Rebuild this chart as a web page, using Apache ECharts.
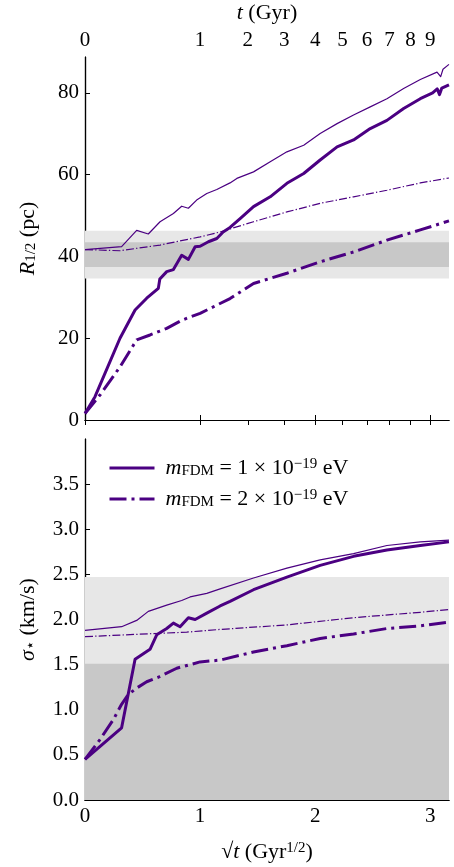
<!DOCTYPE html>
<html><head><meta charset="utf-8">
<script src="https://cdn.jsdelivr.net/npm/echarts@6/dist/echarts.min.js"></script>
<style>html,body{margin:0;padding:0;background:#fff}#c{width:454px;height:867px}</style>
</head><body><div id="c"></div>
<script>
// ---------- data ----------
const XMAX = Math.sqrt(10);
const topTickT = [0,1,2,3,4,5,6,7,8,9];          // t (Gyr) tick labels on top axis
const xTicks = [0,1,2,3];                          // sqrt(t) ticks
const rTicks = [0,20,40,60,80];
const sTicks = [0,0.5,1.0,1.5,2.0,2.5,3.0,3.5];
const rBands = [[34.6,46.3],[37.4,43.5]];           // observed R_1/2 ranges (light, dark)
const sBands = [[0,2.47],[0,1.51]];                 // observed sigma ranges (light, dark)

// top panel: R_1/2 (pc)
const rThickSolidX = [0,0.015,0.087,0.304,0.435,0.536,0.637,0.65,0.71,0.768,0.84,0.898,0.957,1.0,1.072,1.145,1.2,1.26,1.35,1.464,1.609,1.754,1.9,2.043,2.19,2.333,2.478,2.623,2.768,2.913,3.02,3.06,3.08,3.10,3.162];
const rThickSolidY = [1.6,1.6,5.7,20.0,26.9,29.8,32.2,34.5,36.3,36.8,40.3,39.3,42.4,42.5,43.6,44.4,46.0,47.1,49.3,52.2,54.6,57.9,60.3,63.6,66.8,68.5,71.3,73.3,76.2,78.6,80.0,81.0,79.6,81.2,82.0];
const rThinSolidX = [0,0.318,0.449,0.55,0.652,0.768,0.84,0.898,0.97,1.058,1.145,1.26,1.319,1.464,1.609,1.754,1.9,2.043,2.19,2.333,2.478,2.623,2.768,2.913,3.058,3.09,3.11,3.162];
const rThinSolidY = [41.7,42.4,46.4,45.5,48.5,50.5,52.3,51.8,53.8,55.4,56.4,58.0,59.1,60.7,63.2,65.6,67.2,70.1,72.5,74.6,76.6,78.6,81.1,83.3,85.1,84.0,85.8,87.0];
const rThinDashX = [0,0.304,0.652,1.0,1.174,1.464,1.754,2.043,2.333,2.623,2.913,3.162];
const rThinDashY = [41.7,41.4,42.8,44.8,46.0,48.5,50.9,53.0,54.6,56.2,58.0,59.2];
const rThickDashX = [0,0.015,0.13,0.304,0.449,0.565,0.637,0.71,0.84,1.0,1.145,1.26,1.464,1.754,2.043,2.333,2.623,2.913,3.162];
const rThickDashY = [1.6,1.6,6.1,13.0,19.6,20.8,21.6,22.4,24.4,26.1,28.1,29.7,33.4,35.9,38.7,41.1,44.0,46.5,48.7];

// bottom panel: sigma_* (km/s)
const sThickSolidX = [0,0.015,0.318,0.435,0.565,0.623,0.71,0.768,0.826,0.898,0.957,1.058,1.174,1.26,1.464,1.754,2.043,2.333,2.623,2.913,3.162];
const sThickSolidY = [0.45,0.45,0.80,1.56,1.67,1.83,1.90,1.96,1.92,2.02,2.00,2.07,2.15,2.20,2.33,2.47,2.60,2.70,2.77,2.82,2.86];
const sThinSolidX = [0,0.318,0.449,0.55,0.71,0.84,0.913,1.058,1.174,1.464,1.754,2.043,2.333,2.623,2.913,3.162];
const sThinSolidY = [1.88,1.92,1.99,2.09,2.16,2.21,2.25,2.29,2.34,2.46,2.57,2.66,2.73,2.82,2.86,2.88];
const sThinDashX = [0,0.884,1.174,1.754,2.333,2.913,3.162];
const sThinDashY = [1.81,1.86,1.89,1.94,2.02,2.08,2.11];
const sThickDashX = [0,0.015,0.13,0.246,0.318,0.377,0.449,0.536,0.637,0.797,1.0,1.174,1.464,1.754,2.043,2.333,2.623,2.913,3.162];
const sThickDashY = [0.45,0.45,0.67,0.89,1.06,1.17,1.24,1.31,1.36,1.46,1.53,1.55,1.64,1.71,1.79,1.84,1.90,1.93,1.97];

// ---------- chart ----------
const C = '#4B0082';
const FONT = 'Liberation Serif';
const FS = 21;     // tick labels
const NFS = 22;    // axis names / legend
const rich = {
  i: {fontStyle:'italic', fontFamily:FONT, fontSize:NFS},
  n: {fontFamily:FONT, fontSize:NFS},
  s: {fontFamily:FONT, fontSize:15, verticalAlign:'bottom'},
  p: {fontFamily:FONT, fontSize:15, verticalAlign:'top'}
};
const pairs = (xs, ys) => xs.map((x,i)=>[x, ys[i]]);
function line(name, xs, ys, g, thick, dash){
  return {
    type:'line', name, xAxisIndex:g*2, yAxisIndex:g*2, data:pairs(xs,ys),
    symbol:'none', silent:true, z:3, animation:false,
    lineStyle:{color:C, width: thick?3:1.2,
      type: dash ? (thick ? [17,5,3,5] : [8,2.2,1.3,2.2]) : 'solid', cap:'butt', join:'round'},
    itemStyle:{color:C}
  };
}
function bands(g, arr){
  return {
    type:'line', xAxisIndex:g*2, yAxisIndex:g*2, data:[], z:1, silent:true,
    markArea:{silent:true, data: arr.map((b,k)=>[
      {yAxis:b[0], itemStyle:{color: k===0 ? '#e7e7e7' : '#c8c8c8', opacity:1}},
      {yAxis:b[1]}
    ])}
  };
}
const axLine = {show:true, lineStyle:{color:'#000', width:1.2}};
const lbl = {color:'#000', fontFamily:FONT, fontSize:FS};
const nlbl = {color:'#000', fontFamily:FONT, fontSize:NFS};
function xAx(g, pos, labels, name, nameGap){
  const o = {
    gridIndex:g, type:'value', min:0, max:XMAX, position:pos,
    axisLine:axLine, splitLine:{show:false},
    axisTick:{show:!!labels || pos==='bottom', inside:true, length:5, lineStyle:{color:'#000',width:1},
      customValues: labels ? labels.pos : xTicks},
    axisLabel:labels ? Object.assign({customValues:labels.pos, formatter:labels.fmt, margin:6}, lbl) : {show:false}
  };
  if (name){ Object.assign(o, {name, nameLocation:'middle', nameGap, nameTextStyle:Object.assign({rich}, nlbl)}); }
  return o;
}
function yAx(g, pos, max, ticks, name){
  const o = {
    gridIndex:g, type:'value', min:0, max, position:pos,
    axisLine:axLine, splitLine:{show:false},
    axisTick:{show:pos==='left', inside:true, length:5, lineStyle:{color:'#000',width:1}, customValues:ticks},
    axisLabel:pos==='left' ? Object.assign({customValues:ticks, margin:6,
      formatter: v => (g===1 ? v.toFixed(1) : String(v))}, lbl) : {show:false}
  };
  if (name){ Object.assign(o, {name, nameLocation:'middle', nameGap:46, nameRotate:90, nameTextStyle:Object.assign({rich}, nlbl)}); }
  return o;
}
const legendNames = {
  m1: '{i|m}{s|FDM}{n| = 1 × 10}{p|−19}{n| eV}',
  m2: '{i|m}{s|FDM}{n| = 2 × 10}{p|−19}{n| eV}'
};
const option = {
  animation:false,
  backgroundColor:'#fff',
  grid:[
    {left:85, top:57, width:364, height:363},
    {left:85, top:439, width:364, height:361}
  ],
  xAxis:[
    xAx(0,'bottom', null),
    xAx(0,'top', {pos: topTickT.map(Math.sqrt), fmt: v => String(Math.round(v*v))}, '{i|t}{n| (Gyr)}', 33),
    xAx(1,'bottom', {pos: xTicks, fmt: v => String(Math.round(v))}, '{n|√}{i|t}{n| (Gyr}{p|1/2}{n|)}', 41),
    Object.assign(xAx(1,'top', null), {axisTick:{show:false}})
  ],
  yAxis:[
    yAx(0,'left', 88.8, rTicks, '{i|R}{s|1/2}{n| (pc)}'),
    yAx(0,'right', 88.8, rTicks),
    yAx(1,'left', 4.0, sTicks, '{i|σ}{s|⋆}{n| (km/s)}'),
    yAx(1,'right', 4.0, sTicks)
  ],
  legend:{
    data:['m1','m2'], orient:'vertical', left:103, top:452,
    itemWidth:45, itemHeight:14, itemGap:9,
    itemStyle:{opacity:0},
    lineStyle:{width:3},
    formatter: n => legendNames[n],
    textStyle:Object.assign({rich, padding:[0,0,0,6]}, nlbl),
    selectedMode:false
  },
  series:[
    bands(0, rBands), bands(1, sBands),
    line('m1b', rThinSolidX, rThinSolidY, 0, false, false),
    line('m2b', rThinDashX, rThinDashY, 0, false, true),
    line('m1', rThickSolidX, rThickSolidY, 0, true, false),
    line('m2', rThickDashX, rThickDashY, 0, true, true),
    line('m1b', sThinSolidX, sThinSolidY, 1, false, false),
    line('m2b', sThinDashX, sThinDashY, 1, false, true),
    line('m1', sThickSolidX, sThickSolidY, 1, true, false),
    line('m2', sThickDashX, sThickDashY, 1, true, true)
  ]
};
const chart = echarts.init(document.getElementById('c'), null, {renderer:'canvas'});
chart.setOption(option);
</script>
</body></html>
